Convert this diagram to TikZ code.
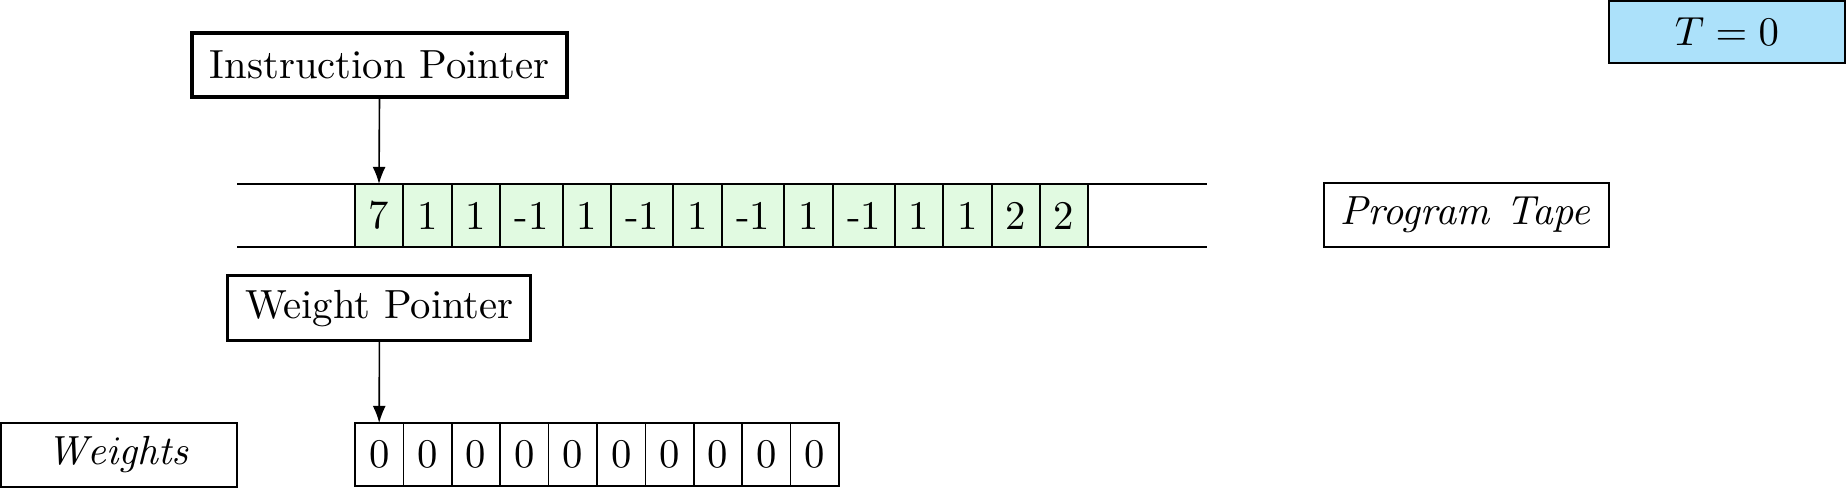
\documentclass[tikz,border=0pt]{standalone}
\usetikzlibrary{arrows.meta}
\definecolor{cellgreen}{RGB}{225,250,225}
\definecolor{tblue}{RGB}{172,225,250}
\def\pxu{0.2457pt}
\begin{document}
\begin{tikzpicture}[x=0.2457pt,y=-0.2457pt,
  ptr/.style={draw, line width=0.75pt, inner sep=0pt, outer sep=0pt},
  lbl/.style={draw, line width=0.4pt, inner sep=0pt, outer sep=0pt},
  cell/.style={draw, line width=0.4pt, fill=cellgreen, inner sep=0pt, outer sep=0pt, minimum height=63*\pxu},
  wcell/.style={draw, line width=0.4pt, inner sep=0pt, outer sep=0pt, minimum height=63*\pxu, minimum width=48.4*\pxu},
  arr/.style={-{Latex[length=4.2pt,width=3.2pt]}, line width=0.4pt}]
\useasboundingbox (0,0) rectangle (1847,488);
% tape lines
\coordinate (tl1) at (237,184);
\coordinate (tr1) at (1207,184);
\coordinate (tl2) at (237,247);
\coordinate (tr2) at (1207,247);
\draw[line width=0.4pt] (tl1) -- (tr1);
\draw[line width=0.4pt] (tl2) -- (tr2);
% tape cells
\foreach \v/\l/\r [count=\i] in {7/355/403, 1/403/452, 1/452/500, -1/500/563, 1/563/611, -1/611/673, 1/673/722, -1/722/784, 1/784/833, -1/833/895, 1/895/943, 1/943/992, 2/992/1040, 2/1040/1088}
  \node[cell, minimum width={(\r-\l)*\pxu}] (c\i) at ({(\l+\r)/2},215.5) {\v};
% weights cells
\foreach \i in {1,...,10}
  \node[wcell] (w\i) at ({355+48.4*(\i-0.5)},454.5) {0};
% pointer boxes
\node[ptr, minimum width=375*\pxu, minimum height=64*\pxu] (ip) at (379.5,65) {Instruction Pointer};
\node[ptr, minimum width=303*\pxu, minimum height=65*\pxu] (wp) at (379.4,308.2) {Weight Pointer};
% labels
\node[lbl, minimum width=285*\pxu, minimum height=64*\pxu] (pt) at (1466.5,215) {$\mathit{Program\ Tape}$};
\node[lbl, minimum width=236*\pxu, minimum height=64*\pxu] (wl) at (119,454.7) {$\mathit{Weights}$};
\node[draw, line width=0.5pt, fill=tblue, inner sep=0pt, outer sep=0pt, minimum width=236*\pxu, minimum height=62*\pxu] (tt) at (1727,32) {$T=0$};
% arrows
\draw[arr] (ip.south) -- (c1.north);
\draw[arr] (wp.south) -- (w1.north);
\end{tikzpicture}
\end{document}
